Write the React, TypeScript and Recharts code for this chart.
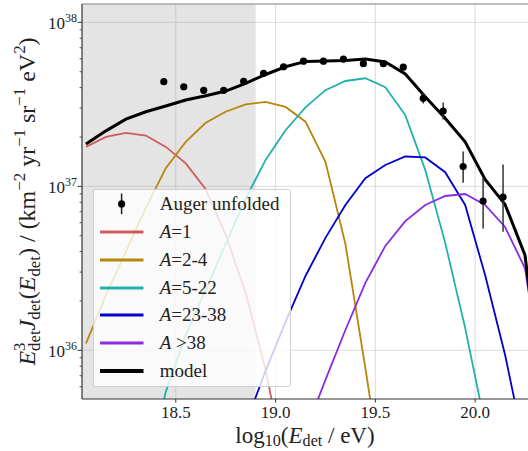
import React from 'react'
import {
  ComposedChart,
  Line,
  Scatter,
  ErrorBar,
  XAxis,
  YAxis,
  ReferenceArea,
  ReferenceLine,
  Legend,
} from 'recharts'

// log10(E/eV) bin centres used by the model curves
const energies = [
  18.05, 18.15, 18.25, 18.35, 18.45, 18.55, 18.65, 18.75, 18.85, 18.95, 19.05, 19.15,
  19.25, 19.35, 19.45, 19.55, 19.65, 19.75, 19.85, 19.95, 20.05, 20.15, 20.25, 20.35,
]

// E^3 J in km^-2 yr^-1 sr^-1 eV^2 (null = not drawn)
const a1 = [
  1.74e37, 2.0e37, 2.12e37, 2.04e37, 1.74e37, 1.38e37, 9.6e36, 5.05e36, 2.24e36, 7.6e35, 1.9e35, 3e34,
  null, null, null, null, null, null, null, null, null, null, null, null,
]
const a2to4 = [
  1.1e36, 2.17e36, 4.0e36, 7.4e36, 1.29e37, 1.87e37, 2.44e37, 2.85e37, 3.16e37, 3.27e37, 3.05e37, 2.48e37,
  1.41e37, 4.45e36, 7.8e35, 1.26e35, null, null, null, null, null, null, null, null,
]
const a5to22 = [
  null, null, null, 1.6e35, 5.6e35, 1.24e36, 2.34e36, 4.45e36, 8.4e36, 1.45e37, 2.2e37, 3.03e37,
  3.86e37, 4.39e37, 4.56e37, 4.02e37, 2.72e37, 1.26e37, 4.52e36, 1.37e36, 3.5e35, 8e34, null, null,
]
const a23to38 = [
  null, null, null, null, null, null, null, null, 3.55e35, 7.5e35, 1.49e36, 2.84e36,
  4.85e36, 7.7e36, 1.12e37, 1.35e37, 1.52e37, 1.5e37, 1.22e37, 7.7e36, 2.88e36, 9.4e35, 2.45e35, 5e34,
]
const aAbove38 = [
  null, null, null, null, null, null, null, null, null, null, null, 3.2e35,
  6.6e35, 1.33e36, 2.58e36, 4.33e36, 6.14e36, 7.7e36, 8.73e36, 8.98e36, 7.7e36, 5.65e36, 3.16e36, 5e35,
]
const model = [
  1.81e37, 2.18e37, 2.57e37, 2.85e37, 3.09e37, 3.36e37, 3.57e37, 3.81e37, 4.25e37, 4.81e37, 5.36e37, 5.78e37,
  5.81e37, 5.86e37, 5.97e37, 5.73e37, 4.84e37, 3.52e37, 2.6e37, 1.87e37, 1.1e37, 7.76e36, 3.8e36, 4e35,
]

// Auger unfolded spectrum
const augerE = [
  18.44, 18.54, 18.64, 18.74, 18.84, 18.94, 19.04, 19.14, 19.24,
  19.34, 19.44, 19.54, 19.64, 19.74, 19.84, 19.94, 20.04, 20.14,
]
const augerFlux = [
  4.35e37, 4.05e37, 3.85e37, 3.85e37, 4.37e37, 4.89e37, 5.36e37, 5.8e37, 5.8e37,
  5.97e37, 5.6e37, 5.6e37, 5.33e37, 3.44e37, 2.88e37, 1.32e37, 8.13e36, 8.6e36,
]
const augerLow = [
  4.27e37, 3.98e37, 3.79e37, 3.79e37, 4.3e37, 4.8e37, 5.26e37, 5.68e37, 5.67e37,
  5.82e37, 5.44e37, 5.4e37, 5.1e37, 3.2e37, 2.56e37, 1.05e37, 5.54e36, 5.28e36,
]
const augerHigh = [
  4.43e37, 4.12e37, 3.91e37, 3.91e37, 4.44e37, 4.98e37, 5.46e37, 5.92e37, 5.93e37,
  6.12e37, 5.76e37, 5.8e37, 5.56e37, 3.68e37, 3.24e37, 1.63e37, 1.13e37, 1.36e37,
]

const xTicks = [18.5, 19.0, 19.5, 20.0]
const decades = [35, 36, 37, 38]
const minorMult = [2, 3, 4, 5, 6, 7, 8, 9]
const xDomain = [18.03, 20.265]
const yDomain = [35.703, 38.112]
const shadeEnd = 18.9

const series = [
  { key: 'a1', label: '=1', color: '#cd5c5c', values: a1 },
  { key: 'a2', label: '=2-4', color: '#b8860b', values: a2to4 },
  { key: 'a5', label: '=5-22', color: '#20b2aa', values: a5to22 },
  { key: 'a23', label: '=23-38', color: '#0000cd', values: a23to38 },
  { key: 'a38', label: ' >38', color: '#8a2be2', values: aAbove38 },
]

const lg = (v: number | null) => (v == null ? null : Math.log10(v))

const table = energies.map((x, i) => {
  const row: Record<string, number | null> = { x, model: lg(model[i]) }
  series.forEach((s) => (row[s.key] = lg(s.values[i])))
  return row
})

const auger = augerE.map((x, i) => {
  const y = Math.log10(augerFlux[i])
  return { x, y, err: [y - Math.log10(augerLow[i]), Math.log10(augerHigh[i]) - y] }
})

const inRange = (v: number) => v >= yDomain[0] && v <= yDomain[1]
const yMajor = decades.filter(inRange)
const yMinor = decades.flatMap((d) => minorMult.map((m) => d + Math.log10(m))).filter(inRange)

const FONT = '"Liberation Serif", "Times New Roman", serif'

type Seg = { t: string; k?: 'sup' | 'sub'; i?: boolean; dx?: number }

function rich(segs: Seg[], fs: number, subShift = 0.22) {
  let shift = 0
  return segs.map((s, idx) => {
    const target = s.k === 'sup' ? -0.42 * fs : s.k === 'sub' ? subShift * fs : 0
    const dy = target - shift
    shift = target
    return (
      <tspan key={idx} dy={dy} dx={s.dx} fontSize={s.k ? fs * 0.7 : fs} fontStyle={s.i ? 'italic' : 'normal'}>
        {s.t}
      </tspan>
    )
  })
}

function YTick(props: any) {
  const { x, y, payload } = props
  const major = yMajor.some((m) => Math.abs(m - payload.value) < 1e-9)
  return (
    <g>
      <line x1={x - (major ? 4.5 : 2.5)} x2={x} y1={y} y2={y} stroke="#333" strokeWidth={major ? 1 : 0.8} />
      {major && (
        <text x={x - 5} y={y + 6.5} textAnchor="end" fontFamily={FONT} fontSize={17} fill="#222">
          10
          <tspan dy={-7} fontSize={12}>
            {Math.round(payload.value)}
          </tspan>
        </text>
      )}
    </g>
  )
}

function XTick(props: any) {
  const { x, y, payload } = props
  return (
    <g>
      <line x1={x} x2={x} y1={y} y2={y + 3.5} stroke="#333" />
      <text x={x} y={y + 19} textAnchor="middle" fontFamily={FONT} fontSize={17} fill="#222">
        {payload.value.toFixed(1)}
      </text>
    </g>
  )
}

function XLabel(props: any) {
  const vb = props.viewBox
  const fs = 23
  return (
    <text
      x={vb.x + vb.width / 2}
      y={vb.y + vb.height - 8.5}
      textAnchor="middle"
      fontFamily={FONT}
      fontSize={fs}
      fill="#222"
      style={{ whiteSpace: 'pre' }}
    >
      {rich(
        [
          { t: 'log' },
          { t: '10', k: 'sub' },
          { t: '(' },
          { t: 'E', i: true },
          { t: 'det', k: 'sub' },
          { t: ' / eV)' },
        ],
        fs,
        0.17,
      )}
    </text>
  )
}

function YLabel(props: any) {
  const vb = props.viewBox
  const fs = 24
  const cx = 35
  const cy = vb.y + vb.height / 2
  return (
    <text
      x={cx}
      y={cy}
      transform={`rotate(-90, ${cx}, ${cy})`}
      textAnchor="middle"
      fontFamily={FONT}
      fontSize={fs}
      fill="#222"
      style={{ whiteSpace: 'pre' }}
    >
      {rich(
        [
          { t: 'E', i: true },
          { t: '3', k: 'sup' },
          { t: 'det', k: 'sub', dx: -0.35 * fs },
          { t: 'J', i: true },
          { t: 'det', k: 'sub' },
          { t: '(' },
          { t: 'E', i: true },
          { t: 'det', k: 'sub' },
          { t: ') / (km' },
          { t: '\u22122', k: 'sup' },
          { t: ' yr' },
          { t: '\u22121', k: 'sup' },
          { t: ' sr' },
          { t: '\u22121', k: 'sup' },
          { t: ' eV' },
          { t: '2', k: 'sup' },
          { t: ')' },
        ],
        fs,
      )}
    </text>
  )
}

function LegendBox() {
  const row = { height: 27.8, display: 'flex', alignItems: 'center' } as const
  return (
    <div
      style={{
        width: 198,
        height: 198,
        background: 'rgba(255,255,255,0.8)',
        border: '1px solid #d0d0d0',
        borderRadius: 3,
        fontFamily: FONT,
        fontSize: 19,
        color: '#222',
        boxSizing: 'border-box',
      }}
    >
      <div style={row}>
        <svg width={60} height={27.8} style={{ marginLeft: 6 }}>
          <line x1={21.6} x2={21.6} y1={3.5} y2={24.2} stroke="#222" strokeWidth={1.5} />
          <circle cx={21.6} cy={13.9} r={3.6} fill="#000" />
        </svg>
        <span>Auger unfolded</span>
      </div>
      {series.map((s) => (
        <div key={s.key} style={row}>
          <svg width={60} height={27.8} style={{ marginLeft: 6 }}>
            <line x1={0} x2={43.5} y1={13.9} y2={13.9} stroke={s.color} strokeWidth={3} />
          </svg>
          <span style={{ whiteSpace: 'pre' }}>
            <i>A</i>
            {s.label}
          </span>
        </div>
      ))}
      <div style={row}>
        <svg width={60} height={27.8} style={{ marginLeft: 6 }}>
          <line x1={0} x2={43.5} y1={13.9} y2={13.9} stroke="#000" strokeWidth={4} />
        </svg>
        <span>model</span>
      </div>
    </div>
  )
}

export default function App() {
  return (
    <div style={{ position: 'absolute', left: 0, top: 0, width: 528, height: 451, background: '#fff' }}>
      <ComposedChart width={528} height={451} data={table} margin={{ top: 4, right: 0, bottom: 0, left: 0 }}>
        <XAxis
          type="number"
          dataKey="x"
          domain={xDomain}
          allowDataOverflow
          ticks={xTicks}
          interval={0}
          tick={<XTick />}
          tickLine={false}
          tickSize={0}
          tickMargin={0}
          axisLine={{ stroke: '#333', strokeWidth: 1.2 }}
          height={52}
          label={{ content: <XLabel /> }}
        />
        <YAxis
          type="number"
          domain={yDomain}
          allowDataOverflow
          ticks={[...yMajor, ...yMinor]}
          interval={0}
          tick={<YTick />}
          tickLine={false}
          tickSize={0}
          tickMargin={0}
          axisLine={{ stroke: '#333', strokeWidth: 1.2 }}
          width={82}
          label={{ content: <YLabel /> }}
        />
        <ReferenceArea x1={xDomain[0]} x2={shadeEnd} fill="#e4e4e4" fillOpacity={1} stroke="none" />
        {xTicks.map((t) => (
          <ReferenceLine key={'gx' + t} x={t} stroke="#b0b0b0" strokeOpacity={0.45} />
        ))}
        {yMajor.map((t) => (
          <ReferenceLine key={'gy' + t} y={t} stroke="#b0b0b0" strokeOpacity={0.45} />
        ))}
        <ReferenceLine y={yDomain[1]} stroke="#808080" strokeWidth={1.2} />
        {series.map((s) => (
          <Line
            key={s.key}
            type="linear"
            dataKey={s.key}
            stroke={s.color}
            strokeWidth={1.8}
            dot={false}
            isAnimationActive={false}
          />
        ))}
        <Line type="linear" dataKey="model" stroke="#000" strokeWidth={3} dot={false} isAnimationActive={false} />
        <Scatter
          data={auger}
          dataKey="y"
          isAnimationActive={false}
          shape={(p: any) => <circle cx={p.cx} cy={p.cy} r={3.6} fill="#000" />}
        >
          <ErrorBar dataKey="err" direction="y" width={0} stroke="#333" strokeWidth={1.5} isAnimationActive={false} />
        </Scatter>
        <Legend
          layout="vertical"
          align="center"
          verticalAlign="middle"
          content={() => <LegendBox />}
          wrapperStyle={{ left: 92.7, top: 189.3, width: 200, height: 200 }}
        />
      </ComposedChart>
    </div>
  )
}
